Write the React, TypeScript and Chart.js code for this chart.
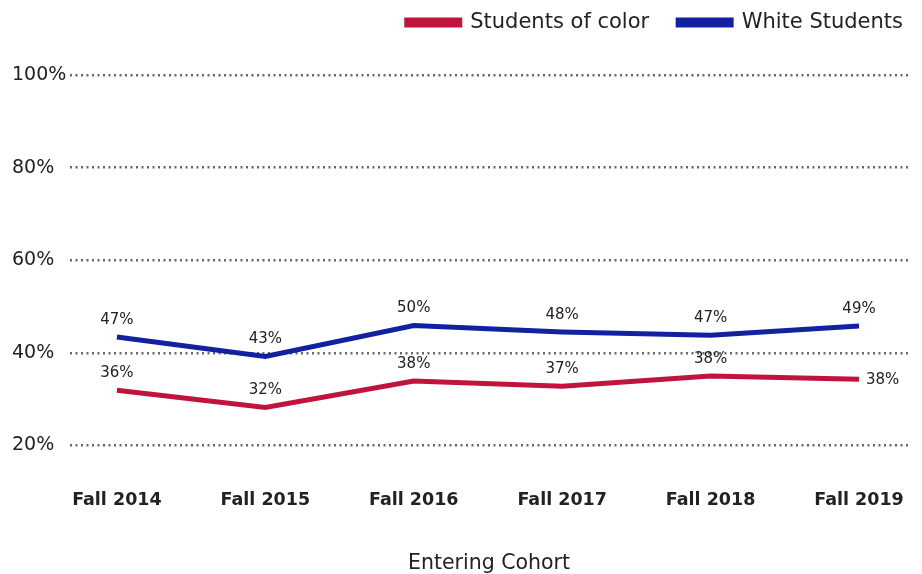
import React, { useEffect, useRef } from "react";
import { Chart, registerables } from "chart.js";

Chart.register(...registerables);

const categories = ["Fall 2014", "Fall 2015", "Fall 2016", "Fall 2017", "Fall 2018", "Fall 2019"];
const studentsOfColor = [31.9, 28.2, 33.9, 32.8, 35.0, 34.3];
const whiteStudents = [43.4, 39.2, 45.9, 44.5, 43.8, 45.8];
const studentsOfColorLabels = ["36%", "32%", "38%", "37%", "38%", "38%"];
const whiteStudentsLabels = ["47%", "43%", "50%", "48%", "47%", "49%"];
const yTicks = [20, 40, 60, 80, 100];

const RED = "#C0143C";
const BLUE = "#1121A0";
const FONT = "'DejaVu Sans', sans-serif";

const labelPlugin = {
  id: "valueLabels",
  afterDatasetsDraw(chart: any) {
    const ctx = chart.ctx;
    const sets = [studentsOfColorLabels, whiteStudentsLabels];
    ctx.save();
    ctx.font = `15px ${FONT}`;
    ctx.fillStyle = "#222";
    chart.data.datasets.forEach((_: any, di: number) => {
      const meta = chart.getDatasetMeta(di);
      meta.data.forEach((pt: any, i: number) => {
        const txt = sets[di][i];
        const last = di === 0 && i === meta.data.length - 1;
        ctx.textBaseline = "middle";
        if (last) {
          ctx.textAlign = "left";
          ctx.fillText(txt, pt.x + 7, pt.y + 1);
        } else {
          ctx.textAlign = "center";
          ctx.fillText(txt, pt.x, pt.y - 17);
        }
      });
    });
    ctx.restore();
  },
};

const legendSpacer = {
  id: "legendSpacer",
  afterInit(chart: any) {
    const legend = chart.legend;
    if (!legend) return;
    const origFit = legend.fit.bind(legend);
    legend.fit = function () {
      origFit();
      this.height += 15;
    };
    const origDraw = legend.draw.bind(legend);
    legend.draw = function () {
      const ctx = chart.ctx;
      ctx.save();
      ctx.translate(24, -17);
      origDraw();
      ctx.restore();
    };
  },
};

export default function App() {
  const ref = useRef<HTMLCanvasElement | null>(null);
  useEffect(() => {
    if (!ref.current) return;
    const chart = new Chart(ref.current, {
      type: "line",
      data: {
        datasets: [
          {
            label: "Students of color",
            data: studentsOfColor.map((v, i) => ({ x: i, y: v })),
            borderColor: RED,
            backgroundColor: RED,
            borderWidth: 5,
            borderCapStyle: "butt",
            pointRadius: 0,
            tension: 0,
          },
          {
            label: "White Students",
            data: whiteStudents.map((v, i) => ({ x: i, y: v })),
            borderColor: BLUE,
            backgroundColor: BLUE,
            borderWidth: 5,
            borderCapStyle: "butt",
            pointRadius: 0,
            tension: 0,
          },
        ],
      },
      options: {
        animation: false,
        responsive: true,
        maintainAspectRatio: false,
        layout: { padding: { left: 12, right: 14, top: 0, bottom: 0 } },
        plugins: {
          legend: {
            position: "top",
            align: "end",
            labels: {
              boxWidth: 53,
              boxHeight: 5,
              padding: 29,
              color: "#222",
              font: { family: FONT, size: 21 },
            },
          },
          tooltip: { enabled: false },
        },
        scales: {
          x: {
            type: "linear",
            min: -0.316,
            max: 5.33,
            afterBuildTicks: (scale: any) => {
              scale.ticks = categories.map((_, i) => ({ value: i }));
            },
            afterFit: (scale: any) => {
              scale.paddingLeft = 0;
              scale.paddingRight = 0;
            },
            ticks: {
              callback: (v: any) => categories[v as number] ?? "",
              color: "#222",
              font: { family: FONT, size: 17.5, weight: "bold" },
              padding: 44.5,
              maxRotation: 0,
            },
            grid: { display: false, drawTicks: false },
            border: { display: false },
            title: {
              display: true,
              text: "Entering Cohort",
              color: "#222",
              font: { family: FONT, size: 20.5 },
              padding: { top: -4, bottom: -2 },
            },
          },
          y: {
            min: 20,
            max: 100,
            afterBuildTicks: (scale: any) => {
              scale.ticks = yTicks.map((v) => ({ value: v }));
            },
            afterFit: (scale: any) => {
              scale.width = 58;
            },
            ticks: {
              callback: (v: any) => `${v}%`,
              color: "#222",
              crossAlign: "far",
              font: { family: FONT, size: 19 },
            },
            grid: {
              color: "#666",
              lineWidth: 2.5,
              drawTicks: false,
            },
            border: { display: false, dash: [2, 3.5] },
          },
        },
      },
      plugins: [labelPlugin, legendSpacer],
    });
    return () => chart.destroy();
  }, []);
  return (
    <div style={{ position: "fixed", left: 0, top: 0, width: 922, height: 574, background: "#fff" }}>
      <canvas ref={ref} />
    </div>
  );
}
